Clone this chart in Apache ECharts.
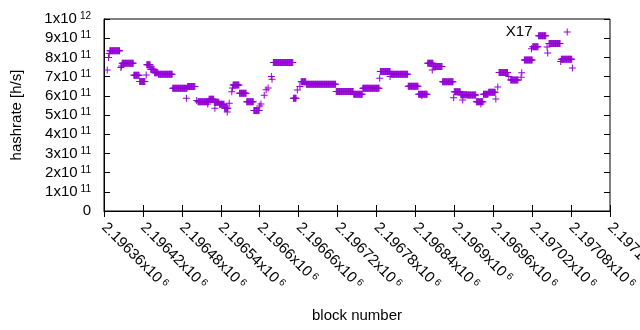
<!DOCTYPE html>
<html>
<head>
<meta charset="utf-8">
<script src="https://cdn.jsdelivr.net/npm/echarts@6/dist/echarts.min.js"></script>
<style>
  html, body { margin: 0; padding: 0; background: #fff; }
  #chart { width: 640px; height: 330px; }
</style>
</head>
<body>
<div id="chart"></div>
<script>
// runs of blocks with the same hashrate (start block, end block, hashrate x1e11)
const runStart = [2196369, 2196388, 2196406, 2196415, 2196426, 2196432, 2196438, 2196444, 2196466, 2196489,
  2196505, 2196522, 2196530, 2196538, 2196546, 2196559, 2196569, 2196580, 2196591, 2196621,
  2196652, 2196664, 2196672, 2196718, 2196745, 2196759, 2196786, 2196802, 2196829, 2196845,
  2196859, 2196868, 2196882, 2196900, 2196910, 2196920, 2196934, 2196945, 2196953, 2196969,
  2196987, 2197008, 2197021, 2197030, 2197046, 2197065];
const runEnd = [2196384, 2196405, 2196414, 2196423, 2196431, 2196437, 2196443, 2196465, 2196488, 2196500,
  2196521, 2196529, 2196537, 2196545, 2196551, 2196568, 2196579, 2196590, 2196599, 2196651,
  2196656, 2196671, 2196717, 2196744, 2196758, 2196784, 2196801, 2196828, 2196844, 2196858,
  2196867, 2196881, 2196898, 2196909, 2196919, 2196933, 2196944, 2196952, 2196963, 2196982,
  2196998, 2197020, 2197029, 2197041, 2197063, 2197081];
const runHash = [8.35, 7.69, 7.07, 6.75, 7.62, 7.38, 7.20, 7.12, 6.39, 6.48,
  5.69, 5.82, 5.66, 5.56, 5.35, 6.56, 6.13, 5.69, 5.24, 7.74,
  5.87, 6.73, 6.60, 6.23, 6.08, 6.39, 7.26, 7.12, 6.50, 6.08,
  7.69, 7.52, 6.73, 6.21, 6.06, 6.04, 5.69, 6.08, 6.18, 7.22,
  6.82, 7.86, 8.56, 9.13, 8.73, 7.90];

// single blocks
const dotBlock = [2196365, 2196367, 2196368, 2196386, 2196387, 2196425, 2196487, 2196503, 2196520, 2196531,
  2196550, 2196553, 2196557, 2196558, 2196600, 2196602, 2196607, 2196610, 2196613, 2196618,
  2196619, 2196658, 2196662, 2196785, 2196801, 2196850, 2196866, 2196899, 2196913, 2196941,
  2196964, 2196967, 2196984, 2197003, 2197004, 2197019, 2197043, 2197044, 2197064, 2197074,
  2197082];
const dotHash = [7.34, 8.00, 8.20, 7.47, 7.55, 7.08, 5.87, 5.75, 5.57, 5.35,
  5.16, 5.61, 6.21, 6.40, 5.47, 5.57, 6.03, 6.32, 6.40, 7.00,
  6.86, 6.30, 6.48, 6.91, 7.00, 6.00, 7.34, 5.90, 5.78, 5.57,
  5.83, 6.46, 7.00, 6.96, 7.20, 8.45, 8.54, 8.23, 7.78, 9.32,
  7.45];

const xMin = 2196360, xMax = 2197140, xStep = 60;
const yMin = 0, yMax = 1e12, yStep = 1e11;
const markText = 'X17', markBlock = 2197000, markHash = 9.32e11;

const font = 'Liberation Sans, Arial, sans-serif';
const purple = '#9400d3';

let points = [];
for (let i = 0; i < runStart.length; i++) {
  for (let b = runStart[i]; b <= runEnd[i]; b++) points.push([b, runHash[i] * 1e11]);
}
for (let i = 0; i < dotBlock.length; i++) points.push([dotBlock[i], dotHash[i] * 1e11]);

function sci(v) {
  if (v === 0) return '{m|0}';
  const e = Math.floor(Math.log10(v) + 1e-9);
  const m = parseFloat((v / Math.pow(10, e)).toFixed(5));
  return '{m|' + m + 'x10}{e|' + e + '}';
}

const rich = {
  m: { fontSize: 15, fontFamily: font, color: '#000' },
  e: { fontSize: 10, fontFamily: font, color: '#000', verticalAlign: 'top', padding: [0, 0, 0, 3] }
};

let myChart = echarts.init(document.getElementById('chart'));
myChart.setOption({
  animation: false,
  grid: {
    left: 104, right: 30, top: 19, bottom: 119,
    outerBoundsMode: 'none', containLabel: false,
    show: true, borderColor: '#000', borderWidth: 1
  },
  xAxis: [
    {
      type: 'value', min: xMin, max: xMax, interval: xStep,
      name: 'block number', nameLocation: 'middle', nameGap: 97,
      nameTextStyle: { fontSize: 15, fontFamily: font, color: '#000' },
      axisLine: { show: true, lineStyle: { color: '#000' } },
      axisTick: { inside: true, length: 6, lineStyle: { color: '#000' } },
      splitLine: { show: false },
      axisLabel: {
        rotate: -45, align: 'left', margin: 14, showMaxLabel: true,
        formatter: v => sci(v), rich: rich
      }
    },
    {
      type: 'value', min: xMin, max: xMax, interval: xStep, position: 'top',
      axisLine: { show: false },
      axisTick: { inside: true, length: 6, lineStyle: { color: '#000' } },
      axisLabel: { show: false }, splitLine: { show: false }
    }
  ],
  yAxis: [
    {
      type: 'value', min: yMin, max: yMax, interval: yStep,
      name: 'hashrate [h/s]', nameLocation: 'middle', nameGap: 80,
      nameTextStyle: { fontSize: 15, fontFamily: font, color: '#000' },
      axisLine: { show: true, lineStyle: { color: '#000' } },
      axisTick: { show: true, inside: true, length: 6, lineStyle: { color: '#000' } },
      splitLine: { show: false },
      axisLabel: { margin: 13, formatter: v => sci(v), rich: rich }
    },
    {
      type: 'value', min: yMin, max: yMax, interval: yStep, position: 'right',
      axisLine: { show: false },
      axisTick: { show: true, inside: true, length: 6, lineStyle: { color: '#000' } },
      axisLabel: { show: false }, splitLine: { show: false }
    }
  ],
  series: [
    {
      type: 'scatter',
      symbol: 'path://M3,0h1v7h-1z M0,3h7v1h-7z',
      symbolSize: 7,
      itemStyle: { color: purple, opacity: 1 },
      data: points,
      markPoint: {
        symbol: 'circle', symbolSize: 0,
        label: { show: true, position: 'inside', formatter: markText, fontSize: 15, fontFamily: font, color: '#000' },
        data: [{ coord: [markBlock, markHash] }]
      }
    }
  ]
});
</script>
</body>
</html>
